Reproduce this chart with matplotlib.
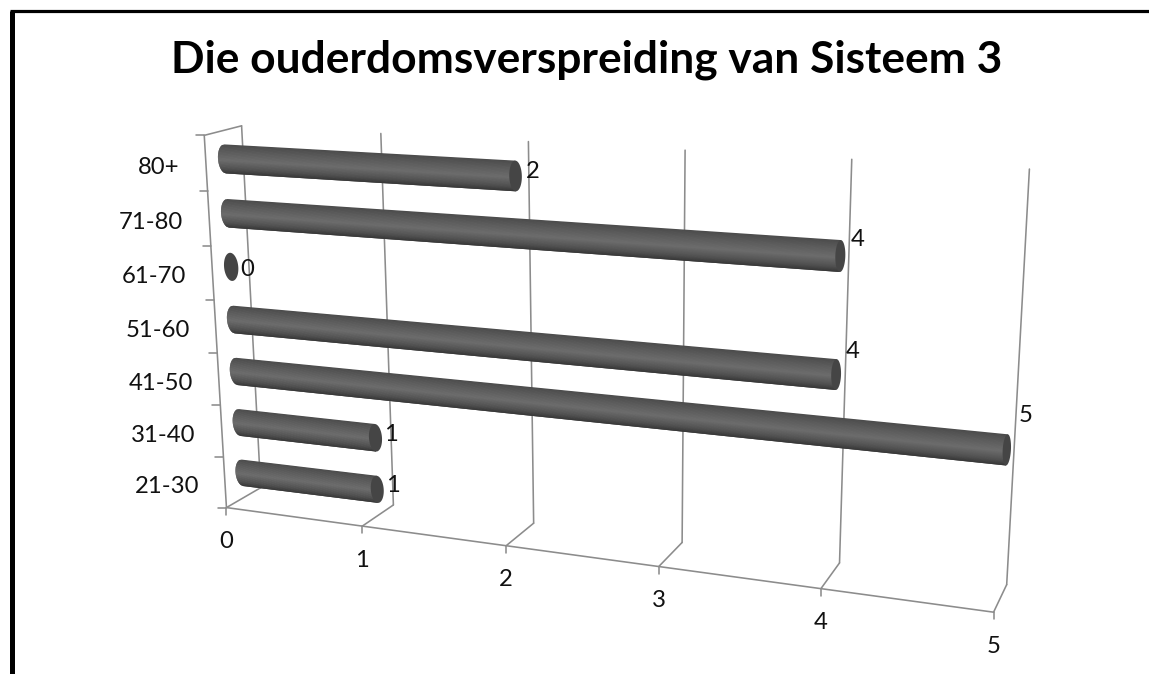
import numpy as np
import matplotlib
matplotlib.use("Agg")
import matplotlib.pyplot as plt
from matplotlib.colors import LinearSegmentedColormap
from matplotlib.transforms import Transform

plt.rcParams["font.family"] = ["Lato", "DejaVu Sans"]

TITLE = "Die ouderdomsverspreiding van Sisteem 3"
age_groups = ["21-30", "31-40", "41-50", "51-60", "61-70", "71-80", "80+"]
counts = [1, 1, 5, 4, 0, 4, 2]
value_ticks = [0, 1, 2, 3, 4, 5]

# how far each data label sits from its bar end, in pixels
label_shift = [(16, -4), (16, -3), (19, -34), (17, -23), (16, 3), (17, -17), (17, -5)]

# camera calibration: (value, category position) -> pixel
FRONT_CAL = [((0, 0), (226, 507)), ((1, 0), (362, 526)), ((2, 0), (507, 546)),
             ((3, 0), (659, 567)), ((4, 0), (821, 589)), ((5, 0), (993, 612)),
             ((0, 7), (204, 136)), ((5, 7), (1016, 182)), ((0, 3.5), (216, 326))]
BACK_CAL = [((0, 0), (260, 488)), ((1, 0), (394, 504)), ((2, 0), (534, 522)),
            ((3, 0), (682, 543)), ((4, 0), (840, 564)), ((5, 0), (1006, 585)),
            ((0, 7), (241, 126)), ((1, 7), (381, 134)), ((2, 7), (529, 142)),
            ((4, 7), (852, 159)), ((5, 7), (1029, 168))]
BAR_CAL = [((0, 0), (242.5, 473)), ((0, 1), (239.5, 422)), ((0, 2), (236.5, 372)),
           ((0, 3), (234.5, 320)), ((0, 4), (230.6, 267)), ((0, 5), (228.5, 213)),
           ((0, 6), (225.5, 159)), ((1, 0), (377, 489.7)), ((1, 1), (376, 437)),
           ((5, 2), (1006.5, 450)), ((4, 3), (836.5, 374.7)), ((4, 5), (840.5, 256)),
           ((2, 6), (515, 176))]

BAR_RADIUS = 0.265
GRID = "#8c8c8c"
TEXT = "#111111"
TICK_SIZE = 17.2


def fit_homography(pairs):
    rows, rhs = [], []
    for (x, y), (u, v) in pairs:
        rows.append([x, y, 1, 0, 0, 0, -u * x, -u * y])
        rows.append([0, 0, 0, x, y, 1, -v * x, -v * y])
        rhs += [u, v]
    h = np.linalg.lstsq(np.array(rows, float), np.array(rhs, float), rcond=None)[0]
    return np.append(h, 1).reshape(3, 3)


class Plane(Transform):
    input_dims = 2
    output_dims = 2
    is_affine = False
    has_inverse = False

    def __init__(self, pairs):
        super().__init__()
        self.h = fit_homography(pairs)

    def transform_non_affine(self, values):
        xy = np.asarray(values, float)
        p = np.column_stack([xy, np.ones(len(xy))]) @ self.h.T
        return p[:, :2] / p[:, 2:]


fig = plt.figure(figsize=(11.49, 6.74), dpi=100)
ax = fig.add_axes([0, 0, 1, 1])
ax.set_xlim(0, 1149)
ax.set_ylim(674, 0)
ax.axis("off")
ax.set_autoscale_on(False)

front_plane = Plane(FRONT_CAL)
back_plane = Plane(BACK_CAL)
bar_plane = Plane(BAR_CAL)
front = front_plane + ax.transData
back = back_plane + ax.transData
bars = bar_plane + ax.transData
n_cat = len(age_groups)

# page frame, only top and left survive the crop
ax.plot([11.5, 11.5], [674, 10.5], color="black", lw=3.6, solid_capstyle="butt", zorder=1)
ax.plot([9.5, 1149], [10.5, 10.5], color="black", lw=2.3, solid_capstyle="butt", zorder=1)

line = dict(color=GRID, lw=1.15, zorder=2, solid_capstyle="round")

# back wall
for v in value_ticks:
    ax.plot([v, v], [0, n_cat], transform=back, **line)

# floor connectors and left wall top
for v in value_ticks:
    p0 = front_plane.transform([[v, 0]])[0]
    p1 = back_plane.transform([[v, 0]])[0]
    ax.plot([p0[0], p1[0]], [p0[1], p1[1]], **line)
p0 = front_plane.transform([[0, n_cat]])[0]
p1 = back_plane.transform([[0, n_cat]])[0]
ax.plot([p0[0], p1[0]], [p0[1], p1[1]], **line)

# front axes
ax.plot([0, 5], [0, 0], transform=front, **line)
ax.plot([0, 0], [0, n_cat], transform=front, **line)

for v in value_ticks:
    px, py = front_plane.transform([[v, 0]])[0]
    ax.plot([px, px], [py, py + 7], **line)
    ax.text(px, py + 34, str(v), ha="center", va="center", fontsize=TICK_SIZE, color=TEXT)

for c in range(n_cat + 1):
    px, py = front_plane.transform([[0, c]])[0]
    ax.plot([px - 8, px], [py, py], **line)

for c, name in enumerate(age_groups):
    px, py = front_plane.transform([[0, c + 0.5]])[0]
    ax.text(px - 26, py + 4, name, ha="right", va="center", fontsize=TICK_SIZE, color=TEXT)

# cylinder shading across the bar, top edge to bottom edge
shade = LinearSegmentedColormap.from_list(
    "tube", [(0, "#4c4c4c"), (0.25, "#5c5c5c"), (0.55, "#6c6c6c"), (0.85, "#505050"), (1, "#383838")])
CAP = "#454545"


def cap_half_width(v):
    # the end ellipses get narrower towards the right of the chart
    return 0.053 - 0.006 * v


for i, value in enumerate(counts):
    edges = np.linspace(1, -1, 41)
    if value > 0:
        # painted top down, each strip runs under the next so no seams show
        for k in range(len(edges) - 1):
            t = edges[k:k + 3]
            left = -cap_half_width(0) * np.sqrt(np.clip(1 - t ** 2, 0, 1))
            xs = list(left) + [value, value]
            ys = list(i + t * BAR_RADIUS) + [i + t[-1] * BAR_RADIUS, i + t[0] * BAR_RADIUS]
            col = shade(k / (len(edges) - 2))
            ax.fill(xs, ys, color=col, lw=0, transform=bars, zorder=3)
    phi = np.linspace(0, 2 * np.pi, 60)
    ax.fill(value + cap_half_width(value) * np.cos(phi), i + BAR_RADIUS * np.sin(phi),
            color=CAP, lw=0, transform=bars, zorder=4)
    px, py = bar_plane.transform([[value, i]])[0]
    dx, dy = label_shift[i]
    ax.text(px + dx, py + dy, str(value), ha="center", va="center", fontsize=TICK_SIZE,
            color=TEXT, zorder=5)

ax.text(587, 60, TITLE, ha="center", va="center", fontsize=31.9, fontweight="bold", color="black")

fig.savefig("out.png", dpi=100)
